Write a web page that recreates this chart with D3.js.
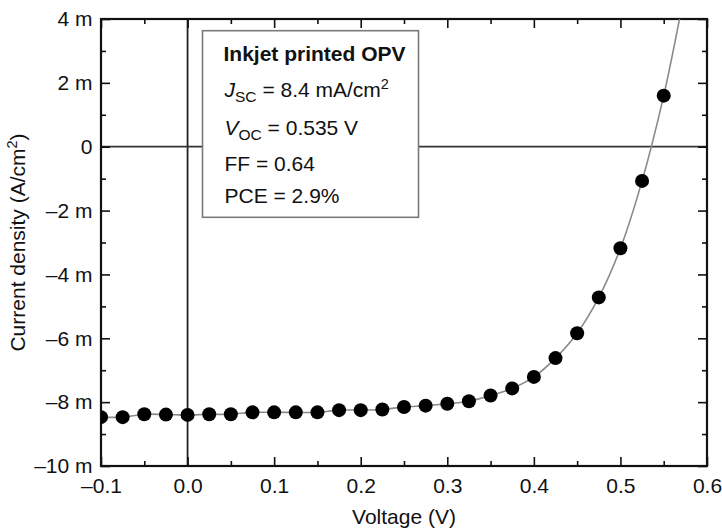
<!DOCTYPE html>
<html>
<head>
<meta charset="utf-8">
<script src="https://cdn.jsdelivr.net/npm/d3@7"></script>
<style>
  html, body { margin: 0; padding: 0; background: #fff; }
  svg { display: block; }
  text { font-family: "Liberation Sans", Arial, Helvetica, sans-serif; fill: #111; }
</style>
</head>
<body>
<svg id="chart" width="722" height="528"></svg>
<script>
// ---- data ----
const voltage = [-0.1, -0.075, -0.05, -0.025, 0.0, 0.025, 0.05, 0.075, 0.1, 0.125, 0.15, 0.175, 0.2,
  0.225, 0.25, 0.275, 0.3, 0.325, 0.35, 0.375, 0.4, 0.425, 0.45, 0.475, 0.5, 0.525, 0.55];
const currentDensity = [-8.47, -8.47, -8.38, -8.39, -8.40, -8.38, -8.38, -8.32, -8.32, -8.32, -8.32, -8.25, -8.25,
  -8.23, -8.15, -8.11, -8.05, -7.97, -7.79, -7.57, -7.21, -6.62, -5.84, -4.72, -3.18, -1.07, 1.60]; // mA/cm^2
// fitted curve continues past the last measured point
const fitExtensionV = [0.5725];
const fitExtensionJ = [4.6];
const xTicks = [-0.1, 0.0, 0.1, 0.2, 0.3, 0.4, 0.5, 0.6];
const xTickLabels = ["\u20130.1", "0.0", "0.1", "0.2", "0.3", "0.4", "0.5", "0.6"];
const xMinorTicks = [-0.05, 0.05, 0.15, 0.25, 0.35, 0.45, 0.55];
const yTicks = [-10, -8, -6, -4, -2, 0, 2, 4];
const yTickLabels = ["\u201310 m", "\u20138 m", "\u20136 m", "\u20134 m", "\u20132 m", "0", "2 m", "4 m"];
const yMinorTicks = [-9, -7, -5, -3, -1, 1, 3];
const legendTitle = "Inkjet printed OPV";
const legendLines = [
  {main: "J", sub: "SC", rest: " = 8.4 mA/cm", sup: "2"},
  {main: "V", sub: "OC", rest: " = 0.535 V"},
  {plain: "FF = 0.64"},
  {plain: "PCE = 2.9%"}
];
const xLabel = "Voltage (V)";
const yLabel = "Current density (A/cm";

// ---- layout ----
const svg = d3.select("#chart");
const m = {left: 101, top: 19, right: 707, bottom: 466};
const x = d3.scaleLinear().domain([-0.1, 0.6]).range([m.left, m.right]);
const y = d3.scaleLinear().domain([-10, 4]).range([m.bottom, m.top]);
const FS = 21;

svg.append("defs").append("clipPath").attr("id", "plotclip")
  .append("rect").attr("x", m.left).attr("y", m.top)
  .attr("width", m.right - m.left).attr("height", m.bottom - m.top);

// zero lines
svg.append("line").attr("x1", x(0)).attr("x2", x(0)).attr("y1", m.top).attr("y2", m.bottom)
  .attr("stroke", "#222").attr("stroke-width", 1.8);
svg.append("line").attr("x1", m.left).attr("x2", m.right).attr("y1", y(0)).attr("y2", y(0))
  .attr("stroke", "#333").attr("stroke-width", 1.8);

// axes (ticks inward on all sides)
function styleAxis(g) {
  g.select(".domain").remove();
  g.selectAll(".tick line").attr("stroke", "#111").attr("stroke-width", 1.6);
  g.selectAll("text").style("font-size", FS + "px").attr("fill", "#111");
}
const major = 9, minor = 5;
svg.append("g").attr("transform", `translate(0,${m.bottom})`)
  .call(d3.axisBottom(x).tickValues(xTicks).tickSize(-major).tickPadding(12)
    .tickFormat((d, i) => xTickLabels[i])).call(styleAxis);
svg.append("g").attr("transform", `translate(0,${m.bottom})`)
  .call(d3.axisBottom(x).tickValues(xMinorTicks).tickSize(-minor).tickFormat("")).call(styleAxis);
svg.append("g").attr("transform", `translate(0,${m.top})`)
  .call(d3.axisTop(x).tickValues(xTicks).tickSize(-major).tickFormat("")).call(styleAxis);
svg.append("g").attr("transform", `translate(0,${m.top})`)
  .call(d3.axisTop(x).tickValues(xMinorTicks).tickSize(-minor).tickFormat("")).call(styleAxis);
svg.append("g").attr("transform", `translate(${m.left},0)`)
  .call(d3.axisLeft(y).tickValues(yTicks).tickSize(-major).tickPadding(8.5)
    .tickFormat((d, i) => yTickLabels[i])).call(styleAxis);
svg.append("g").attr("transform", `translate(${m.left},0)`)
  .call(d3.axisLeft(y).tickValues(yMinorTicks).tickSize(-minor).tickFormat("")).call(styleAxis);
svg.append("g").attr("transform", `translate(${m.right},0)`)
  .call(d3.axisRight(y).tickValues(yTicks).tickSize(-major).tickFormat("")).call(styleAxis);
svg.append("g").attr("transform", `translate(${m.right},0)`)
  .call(d3.axisRight(y).tickValues(yMinorTicks).tickSize(-minor).tickFormat("")).call(styleAxis);

// frame
svg.append("rect").attr("x", m.left).attr("y", m.top)
  .attr("width", m.right - m.left).attr("height", m.bottom - m.top)
  .attr("fill", "none").attr("stroke", "#111").attr("stroke-width", 2.2);

// fitted line
const pts = voltage.map((v, i) => ({v, j: currentDensity[i]}));
const linePts = pts.concat(fitExtensionV.map((v, i) => ({v, j: fitExtensionJ[i]})));
svg.append("path").datum(linePts)
  .attr("clip-path", "url(#plotclip)")
  .attr("fill", "none").attr("stroke", "#8a8a8a").attr("stroke-width", 1.6)
  .attr("d", d3.line().x(d => x(d.v)).y(d => y(d.j)).curve(d3.curveCatmullRom.alpha(0.5)));

// points
svg.append("g").attr("clip-path", "url(#plotclip)").selectAll("circle").data(pts).join("circle")
  .attr("cx", d => x(d.v)).attr("cy", d => y(d.j)).attr("r", 7).attr("fill", "#000");

// legend box
const box = svg.append("g");
box.append("rect").attr("x", 202.5).attr("y", 30.7).attr("width", 216).attr("height", 186.6)
  .attr("fill", "#fff").attr("stroke", "#7a7a7a").attr("stroke-width", 1.6);
const tx = 223.5;
box.append("text").attr("x", tx).attr("y", 61).style("font-size", FS + "px").style("font-weight", "bold")
  .text(legendTitle);
const baselines = [96.5, 134.5, 171, 203];
legendLines.forEach((L, i) => {
  const t = box.append("text").attr("x", tx + 1).attr("y", baselines[i]).style("font-size", FS + "px");
  if (L.plain) { t.text(L.plain); return; }
  t.append("tspan").style("font-style", "italic").text(L.main);
  t.append("tspan").attr("dy", 5).style("font-size", "15.5px").text(L.sub);
  t.append("tspan").attr("dy", -5).text(L.rest);
  if (L.sup) t.append("tspan").attr("dy", -8).style("font-size", "14.5px").text(L.sup);
});

// axis labels
svg.append("text").attr("x", (m.left + m.right) / 2).attr("y", 524).attr("text-anchor", "middle")
  .style("font-size", FS + "px").text(xLabel);
const yl = svg.append("text").attr("transform", `translate(25,${(m.top + m.bottom) / 2}) rotate(-90)`)
  .attr("text-anchor", "middle").style("font-size", FS + "px");
yl.append("tspan").text(yLabel);
yl.append("tspan").attr("dy", -8).style("font-size", "14.5px").text("2");
yl.append("tspan").attr("dy", 8).text(")");
</script>
</body>
</html>
